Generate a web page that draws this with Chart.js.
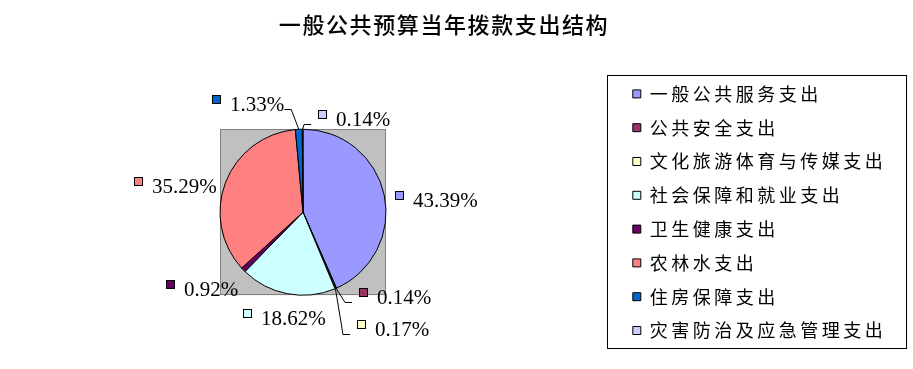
<!DOCTYPE html>
<html lang="zh-CN">
<head>
<meta charset="utf-8">
<title>一般公共预算当年拨款支出结构</title>
<script src="https://cdn.jsdelivr.net/npm/chart.js@4.4.1/dist/chart.umd.min.js"></script>
<style>
    html, body { margin: 0; padding: 0; background: #fff; }
    canvas { display: block; }
</style>
</head>
<body>
<canvas id="budgetChart" width="913" height="369"></canvas>
<script>
// ===== Données =====
const categories = [
    "一般公共服务支出",
    "公共安全支出",
    "文化旅游体育与传媒支出",
    "社会保障和就业支出",
    "卫生健康支出",
    "农林水支出",
    "住房保障支出",
    "灾害防治及应急管理支出"
];
const shares = [43.39, 0.14, 0.17, 18.62, 0.92, 35.29, 1.33, 0.14];
const sliceColors = ["#9999FF", "#993366", "#FFFFCC", "#CCFFFF", "#660066", "#FF8080", "#0066CC", "#CCCCFF"];

// ===== Style des étiquettes (décalage depuis le bord de la part) =====
const labelOffsets = [[10.5, -4], [22.5, 0], [22, 31], [-44.7, 15.5], [-77.6, 10.3], [-91.9, -5], [-87, -34], [15, -19]];
const leaderSide = ["", "right", "right", "", "", "", "left", "right"];
const legendFontSize = 18;

// ===== Plugins =====
const pieDecor = {
    id: "pieDecor",
    beforeLayout(chart) {
        // largeur fixe de la légende
        const legend = chart.legend;
        if (legend && !legend._fixedWidth) {
            const fit = legend.fit;
            legend.fit = function () {
                fit.apply(this, arguments);
                this.width = 301;
            };
            const draw = legend.draw;
            legend.draw = function () {
                chart.ctx.letterSpacing = "3.5px";
                draw.apply(this, arguments);
                chart.ctx.letterSpacing = "0px";
            };
            legend._fixedWidth = true;
        }
        const title = chart.titleBlock;
        if (title && !title._spaced) {
            const drawTitle = title.draw;
            title.draw = function () {
                chart.ctx.letterSpacing = "1.6px";
                drawTitle.apply(this, arguments);
                chart.ctx.letterSpacing = "0px";
            };
            title._spaced = true;
        }
    },
    afterLayout(chart) {
        // décale les entrées de la légende vers la droite
        chart.legend.left += 11;
    },
    beforeDatasetsDraw(chart) {
        // fond gris carré derrière le camembert
        const arc = chart.getDatasetMeta(0).data[0];
        const ctx = chart.ctx;
        const r = arc.outerRadius;
        ctx.save();
        ctx.fillStyle = "#C0C0C0";
        ctx.fillRect(arc.x - r, arc.y - r, 2 * r, 2 * r);
        ctx.strokeStyle = "#808080";
        ctx.lineWidth = 1;
        ctx.strokeRect(Math.round(arc.x - r) + 0.5, Math.round(arc.y - r) + 0.5, Math.round(2 * r) - 1, Math.round(2 * r) - 1);
        ctx.restore();
    },
    afterDatasetsDraw(chart) {
        const ctx = chart.ctx;
        const meta = chart.getDatasetMeta(0);
        ctx.save();
        ctx.font = '21px "Liberation Serif"';
        ctx.textBaseline = "middle";
        ctx.textAlign = "left";
        ctx.lineWidth = 1;
        ctx.strokeStyle = "#000";
        meta.data.forEach((arc, i) => {
            const mid = (arc.startAngle + arc.endAngle) / 2;
            const ex = arc.x + arc.outerRadius * Math.cos(mid);
            const ey = arc.y + arc.outerRadius * Math.sin(mid);
            const bx = Math.round(ex + labelOffsets[i][0]);
            const by = Math.round(ey + labelOffsets[i][1]);
            const ty = by + 10;
            const text = shares[i].toFixed(2) + "%";

            // lignes de rappel
            if (leaderSide[i] === "right") {
                ctx.beginPath();
                ctx.moveTo(ex, ey);
                ctx.lineTo(bx - 14, ty + 4.5);
                ctx.lineTo(bx - 7, ty + 4.5);
                ctx.stroke();
            } else if (leaderSide[i] === "left") {
                const textEnd = bx + 18 + ctx.measureText(text).width;
                ctx.beginPath();
                ctx.moveTo(ex, ey);
                ctx.lineTo(textEnd + 7, ty + 4.5);
                ctx.lineTo(textEnd, ty + 4.5);
                ctx.stroke();
            }

            // petit carré de couleur
            ctx.fillStyle = sliceColors[i];
            ctx.fillRect(bx, by, 9, 9);
            ctx.strokeRect(bx + 0.5, by + 0.5, 8, 8);

            ctx.fillStyle = "#000";
            ctx.fillText(text, bx + 18, ty);
        });
        ctx.restore();
    },
    afterDraw(chart) {
        // cadre autour de la légende
        const lg = chart.legend;
        const pad = lg.options.labels.padding;
        const colH = categories.length * (legendFontSize + pad);
        const itemsTop = (lg.top + pad + lg.bottom - colH) / 2;
        const ctx = chart.ctx;
        ctx.save();
        ctx.strokeStyle = "#000";
        ctx.lineWidth = 1;
        const x0 = Math.round(lg.left - 10) + 0.5;
        const y0 = Math.round(itemsTop - 10) + 0.5;
        const x1 = Math.round(lg.right) - 0.5;
        const y1 = Math.round(itemsTop + colH - pad + 9) + 0.5;
        ctx.strokeRect(x0, y0, x1 - x0, y1 - y0);
        ctx.restore();
    }
};

// ===== Graphique =====
const ctx = document.getElementById("budgetChart").getContext("2d");
new Chart(ctx, {
    type: "pie",
    data: {
        labels: categories,
        datasets: [{
            data: shares,
            backgroundColor: sliceColors,
            borderColor: "#000",
            borderWidth: 1
        }]
    },
    options: {
        responsive: false,
        animation: false,
        devicePixelRatio: 1,
        events: [],
        radius: 83,
        layout: {
            padding: { left: -19, right: 6, top: 0, bottom: 9 }
        },
        plugins: {
            title: {
                display: true,
                text: "一般公共预算当年拨款支出结构",
                color: "#000",
                font: { family: '"Noto Sans CJK SC"', size: 22, weight: "500" },
                padding: { top: 11, bottom: 27 }
            },
            legend: {
                position: "right",
                fullSize: false,
                align: "center",
                labels: {
                    color: "#000",
                    font: { family: '"Noto Sans CJK SC"', size: legendFontSize },
                    boxWidth: 8,
                    boxHeight: 8,
                    padding: 15.8
                }
            },
            tooltip: { enabled: false }
        }
    },
    plugins: [pieDecor]
});
</script>
</body>
</html>
